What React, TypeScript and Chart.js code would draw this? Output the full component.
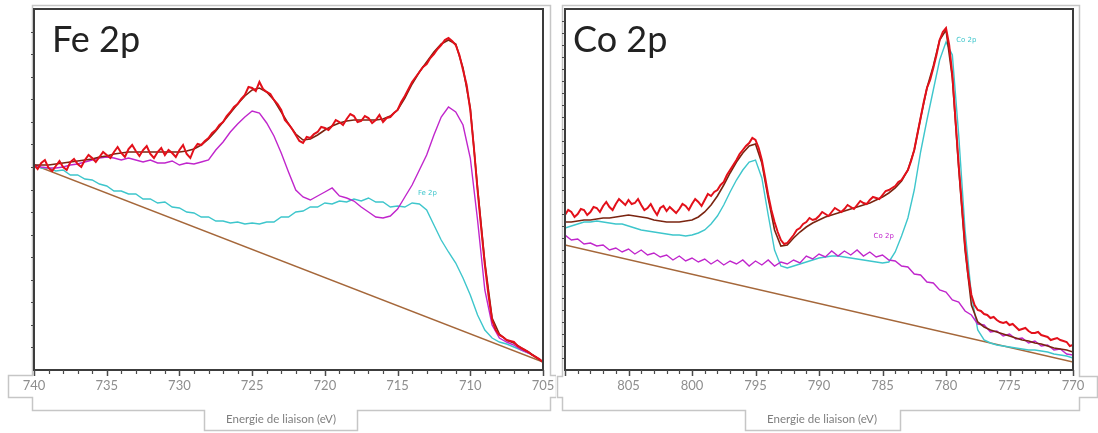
import React, { useEffect, useRef } from "react";
import { Chart, registerables } from "chart.js";
Chart.register(...registerables);

// ---------- Fe 2p (binding energy 740 -> 705 eV) ----------
const feStart = 740;
const feEnd = 705;
const feRawStep = 0.25; // measured spectrum sampling
const feFitStep = 0.5; // fitted components sampling
const feRaw = [
  205, 201, 207, 210, 202, 199, 204, 209, 203, 200,
  208, 211, 206, 203, 210, 215, 212, 208, 213, 218,
  215, 212, 218, 223, 217, 213, 221, 225, 219, 214,
  220, 224, 216, 212, 218, 222, 215, 220, 217, 213,
  220, 225, 216, 212, 221, 226, 225, 229, 232, 237,
  240, 245, 248, 254, 258, 263, 266, 271, 275, 283,
  282, 279, 288, 281, 278, 276, 270, 266, 260, 250,
  246, 241, 235, 229, 227, 233, 232, 236, 238, 243,
  242, 240, 244, 250, 248, 245, 251, 256, 254, 248,
  249, 254, 252, 247, 250, 255, 248, 252, 253, 257,
  260, 268, 274, 281, 288, 293, 298, 303, 306, 312,
  316, 321, 325, 330, 332, 329, 325, 315, 300, 285,
  260, 222, 180, 142, 105, 75, 50, 40, 35, 33,
  30, 29, 28, 24, 22, 20, 18, 15, 13, 11,
  8,
];
const feEnvelope = [
  205, 205, 205, 206, 207, 208, 209, 210, 211, 213,
  214, 216, 217, 218, 218, 218, 218, 218, 218, 218,
  218, 219, 221, 225, 231, 239, 248, 257, 266, 274,
  280, 282, 278, 270, 258, 246, 236, 230, 231, 235,
  240, 244, 247, 249, 250, 250, 250, 250, 251, 254,
  260, 272, 286, 298, 308, 318, 326, 330, 326, 302,
  262, 182, 108, 52, 36, 30, 27, 22, 18, 13,
  8,
];
const fePurple = [
  205, 203, 202, 202, 203, 205, 206, 208, 210, 212,
  213, 212, 210, 212, 210, 208, 210, 207, 207, 209,
  205, 207, 206, 208, 210, 220, 228, 238, 246, 253,
  259, 257, 247, 234, 217, 198, 180, 173, 170, 174,
  178, 182, 174, 172, 169, 163, 158, 153, 152, 154,
  161, 173, 185, 200, 215, 235, 253, 263, 258, 245,
  212, 150, 80, 45, 32, 28, 25, 20, 17, 13,
  8,
];
const feCyan = [
  205, 202, 202, 199, 200, 195, 195, 191, 190, 186,
  184, 179, 179, 176, 176, 171, 171, 167, 168, 163,
  162, 158, 157, 153, 153, 149, 149, 147, 148, 146,
  147, 146, 148, 148, 153, 153, 158, 159, 163, 163,
  167, 166, 169, 168, 171, 169, 172, 168, 168, 163,
  164, 163, 167, 166, 160, 145, 130, 118, 107, 92,
  75, 55, 40, 32, 28, 26, 23, 20, 17, 13,
  8,
];
const feBackgroundEnergy = [740, 705];
const feBackground = [205, 8];
const feTicks = [740, 735, 730, 725, 720, 715, 710, 705];

// ---------- Co 2p (binding energy 810 -> 770 eV) ----------
const coStart = 810;
const coEnd = 770;
const coRawStep = 0.25;
const coFitStep = 0.5;
const coRaw = [
  155, 160, 158, 153, 156, 161, 160, 155, 158, 163, 162, 158, 164, 168, 163, 160, 166, 171, 168, 165,
  170, 166, 167, 171, 165, 160, 162, 166, 160, 155, 162, 164, 159, 163, 160, 157, 161, 166, 164, 160,
  166, 171, 168, 164, 170, 176, 174, 178, 180, 185, 188, 195, 200, 205, 210, 216, 220, 224, 227, 232,
  230, 222, 210, 193, 175, 160, 148, 138, 130, 126, 127, 131, 135, 140, 142, 146, 148, 152, 150, 151,
  154, 158, 156, 154, 158, 162, 160, 158, 161, 165, 163, 161, 165, 169, 167, 166, 170, 173, 172, 171,
  175, 179, 180, 182, 184, 188, 190, 195, 200, 209, 220, 236, 252, 268, 282, 290, 302, 315, 330, 338,
  342, 325, 295, 250, 205, 165, 125, 95, 75, 65, 60, 59, 56, 55, 52, 53, 50, 48, 47, 48,
  45, 46, 43, 40, 41, 42, 39, 37, 37, 38, 35, 34, 33, 30, 31, 32, 30, 29, 28, 24,
  25,
];
const coEnvelope = [
  148, 148, 149, 150, 150, 151, 152, 152, 153, 154,
  155, 154, 153, 152, 150, 149, 148, 148, 148, 149,
  150, 153, 158, 165, 174, 185, 197, 208, 217, 224,
  226, 207, 172, 140, 124, 125, 132, 138, 143, 147,
  150, 153, 155, 157, 159, 161, 163, 165, 167, 170,
  173, 177, 182, 189, 200, 220, 252, 282, 304, 330,
  340, 292, 202, 120, 65, 48, 43, 40, 38, 36,
  34, 32, 30, 29, 27, 26, 24, 22, 21, 20,
  18,
];
const coPurple = [
  135, 130, 131, 126, 127, 124, 125, 120, 122, 118,
  121, 116, 120, 115, 117, 113, 115, 110, 114, 109,
  112, 108, 111, 106, 110, 105, 109, 106, 110, 104,
  109, 105, 110, 104, 108, 106, 110, 107, 114, 111,
  116, 113, 119, 114, 119, 115, 120, 114, 118, 113,
  115, 110, 109, 104, 103, 96, 95, 88, 87, 80,
  78, 70, 68, 59, 55, 46, 45, 38, 39, 34,
  36, 31, 32, 27, 29, 24, 25, 20, 21, 16,
  15,
];
const coCyan = [
  142, 144, 146, 148, 148, 149, 148, 147, 146, 146,
  144, 142, 140, 139, 138, 137, 136, 135, 135, 134,
  135, 137, 140, 146, 154, 165, 178, 190, 200, 208,
  210, 192, 155, 120, 104, 102, 104, 106, 108, 110,
  112, 113, 114, 114, 113, 112, 111, 110, 109, 108,
  107, 108, 118, 134, 152, 180, 218, 250, 280, 310,
  328, 315, 235, 140, 75, 40, 30, 27, 25, 24,
  23, 22, 21, 20, 20, 19, 18, 16, 15, 14,
  12,
];
const coBackgroundEnergy = [810, 770];
const coBackground = [125, 8];
const coTicks = [805, 800, 795, 790, 785, 780, 775, 770];

const yMax = 361;
const axisTitle = "Energie de liaison (eV)";

const COLORS = {
  raw: "#e3101a",
  envelope: "#7a2410",
  purple: "#c026cc",
  cyan: "#3ec6cc",
  background: "#a5673a",
};

type Pt = [number, number];

function energies(start: number, step: number, n: number) {
  return Array.from({ length: n }, (_, i) => start - i * step);
}
function pts(xs: number[], ys: number[]) {
  return ys.map((y, i) => ({ x: xs[i], y }));
}

interface Series {
  rawE: number[];
  raw: number[];
  fitE: number[];
  env: number[];
  purple: number[];
  cyan: number[];
  bgE: number[];
  bg: number[];
}

interface PanelCfg {
  canvasLeft: number;
  canvasWidth: number;
  pad: { left: number; right: number; top: number; bottom: number };
  xMin: number;
  xMax: number;
  yTickCount: number;
  ticks: number[];
  title: string;
  titleX: number;
  outline: Pt[];
  tabCenter: number;
  notes: { x: number; y: number; text: string; color: string }[];
  series: Series;
}

function makePlugin(cfg: PanelCfg) {
  return {
    id: "xpsDecor",
    beforeDraw(chart: any) {
      const ctx = chart.ctx;
      ctx.save();
      ctx.strokeStyle = "#c6c6c6";
      ctx.lineWidth = 1.5;
      ctx.beginPath();
      cfg.outline.forEach(([x, y], i) => {
        const cx = x - cfg.canvasLeft + 0.5;
        if (i === 0) ctx.moveTo(cx, y + 0.5);
        else ctx.lineTo(cx, y + 0.5);
      });
      ctx.closePath();
      ctx.stroke();
      ctx.restore();
    },
    afterDatasetsDraw(chart: any) {
      const ctx = chart.ctx;
      const a = chart.chartArea;
      const xs = chart.scales.x;
      const ys = chart.scales.y;
      ctx.save();
      // small component labels on the curves
      ctx.font = "7px 'DejaVu Sans'";
      ctx.textAlign = "left";
      ctx.textBaseline = "middle";
      cfg.notes.forEach((n) => {
        ctx.fillStyle = n.color;
        ctx.fillText(n.text, xs.getPixelForValue(n.x), ys.getPixelForValue(n.y));
      });
      // plot frame
      ctx.strokeStyle = "#3c3c3c";
      ctx.lineWidth = 2;
      ctx.strokeRect(a.left, a.top, a.right - a.left, a.bottom - a.top);
      // y tick marks (outside, left)
      ctx.lineWidth = 1;
      ctx.strokeStyle = "#4a4a4a";
      for (let i = 1; i < cfg.yTickCount; i++) {
        const py = Math.round(ys.getPixelForValue((yMax * i) / cfg.yTickCount)) + 0.5;
        ctx.beginPath();
        ctx.moveTo(a.left - 3, py);
        ctx.lineTo(a.left, py);
        ctx.stroke();
      }
      // x tick marks (below axis)
      for (let v = Math.ceil(cfg.xMin); v <= cfg.xMax; v++) {
        const px = Math.round(xs.getPixelForValue(v)) + 0.5;
        const major = v % 5 === 0;
        ctx.lineWidth = major ? 1.5 : 1.2;
        ctx.beginPath();
        ctx.moveTo(px, a.bottom);
        ctx.lineTo(px, a.bottom + (major ? 6 : 4));
        ctx.stroke();
      }
      // tick labels
      ctx.fillStyle = "#8e8e8e";
      ctx.font = "13px Lato";
      ctx.textAlign = "center";
      ctx.textBaseline = "middle";
      cfg.ticks.forEach((t) => {
        ctx.fillText(String(t), xs.getPixelForValue(t), a.bottom + 16);
      });
      // axis title
      ctx.fillStyle = "#7e7e7e";
      ctx.font = "11.5px Lato";
      ctx.fillText(axisTitle, cfg.tabCenter - cfg.canvasLeft, 419);
      // panel title
      ctx.fillStyle = "#222";
      ctx.font = "36px Lato";
      ctx.textAlign = "left";
      ctx.textBaseline = "alphabetic";
      ctx.fillText(cfg.title, cfg.titleX - cfg.canvasLeft, 52);
      ctx.restore();
    },
  };
}

function Panel({ cfg }: { cfg: PanelCfg }) {
  const ref = useRef<HTMLCanvasElement>(null);
  useEffect(() => {
    const s = cfg.series;
    const ds = (xs: number[], data: number[], color: string, width: number) => ({
      data: pts(xs, data),
      borderColor: color,
      borderWidth: width,
      pointRadius: 0,
      fill: false,
      tension: 0,
    });
    const chart = new Chart(ref.current as HTMLCanvasElement, {
      type: "line",
      data: {
        datasets: [
          ds(s.rawE, s.raw, COLORS.raw, 2),
          ds(s.fitE, s.env, COLORS.envelope, 1.6),
          ds(s.fitE, s.purple, COLORS.purple, 1.4),
          ds(s.fitE, s.cyan, COLORS.cyan, 1.4),
          ds(s.bgE, s.bg, COLORS.background, 1.4),
        ],
      },
      options: {
        animation: false,
        responsive: false,
        maintainAspectRatio: false,
        devicePixelRatio: 1,
        layout: { padding: cfg.pad },
        plugins: { legend: { display: false }, tooltip: { enabled: false } },
        scales: {
          x: { type: "linear", min: cfg.xMin, max: cfg.xMax, reverse: true, display: false },
          y: { type: "linear", min: 0, max: yMax, display: false },
        },
      },
      plugins: [makePlugin(cfg)],
    } as any);
    return () => chart.destroy();
  }, []);
  return (
    <canvas
      ref={ref}
      width={cfg.canvasWidth}
      height={433}
      style={{ position: "absolute", left: cfg.canvasLeft, top: 0, width: cfg.canvasWidth, height: 433 }}
    />
  );
}

const feCfg: PanelCfg = {
  canvasLeft: 0,
  canvasWidth: 556,
  pad: { left: 34, right: 13, top: 9, bottom: 63 },
  xMin: feEnd,
  xMax: feStart,
  yTickCount: 16,
  ticks: feTicks,
  title: "Fe 2p",
  titleX: 52,
  outline: [
    [32, 5], [550, 5], [550, 375], [556, 375], [556, 397], [550, 397], [550, 410],
    [357, 410], [357, 430], [204, 430], [204, 410], [32, 410], [32, 397], [8, 397], [8, 375], [32, 375],
  ],
  tabCenter: 281,
  notes: [{ x: 713.6, y: 177, text: "Fe 2p", color: COLORS.cyan }],
  series: {
    rawE: energies(feStart, feRawStep, feRaw.length),
    raw: feRaw,
    fitE: energies(feStart, feFitStep, feEnvelope.length),
    env: feEnvelope,
    purple: fePurple,
    cyan: feCyan,
    bgE: feBackgroundEnergy,
    bg: feBackground,
  },
};

const coCfg: PanelCfg = {
  canvasLeft: 556,
  canvasWidth: 542,
  pad: { left: 9, right: 25, top: 9, bottom: 63 },
  xMin: coEnd,
  xMax: coStart,
  yTickCount: 30,
  ticks: coTicks,
  title: "Co 2p",
  titleX: 573,
  outline: [
    [562, 5], [1079, 5], [1079, 376], [1097, 376], [1097, 397], [1079, 397], [1079, 410],
    [900, 410], [900, 430], [745, 430], [745, 410], [562, 410], [562, 397], [557, 397], [557, 376], [562, 376],
  ],
  tabCenter: 822,
  notes: [
    { x: 785.7, y: 134, text: "Co 2p", color: COLORS.purple },
    { x: 779.2, y: 330, text: "Co 2p", color: COLORS.cyan },
  ],
  series: {
    rawE: energies(coStart, coRawStep, coRaw.length),
    raw: coRaw,
    fitE: energies(coStart, coFitStep, coEnvelope.length),
    env: coEnvelope,
    purple: coPurple,
    cyan: coCyan,
    bgE: coBackgroundEnergy,
    bg: coBackground,
  },
};

export default function App() {
  return (
    <div style={{ position: "absolute", left: 0, top: 0, width: 1098, height: 433, background: "#fff" }}>
      <Panel cfg={feCfg} />
      <Panel cfg={coCfg} />
    </div>
  );
}
